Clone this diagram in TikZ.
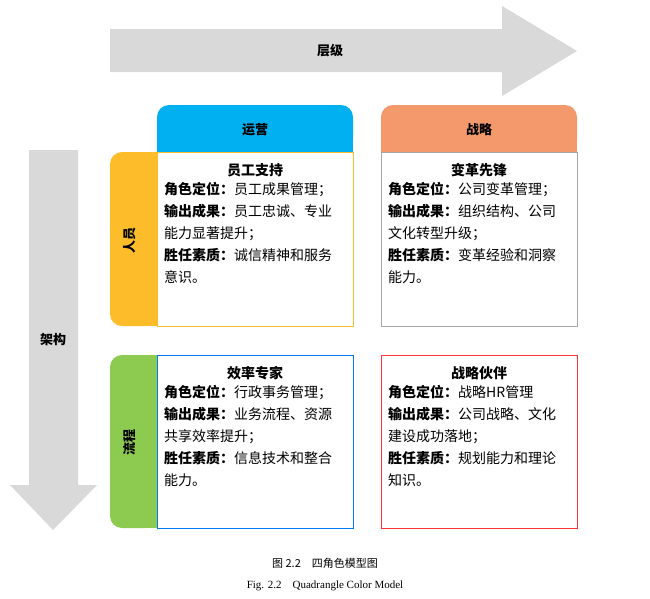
\documentclass[tikz,border=0pt]{standalone}
\usepackage{fontspec}
\setmainfont{Liberation Serif}
\newfontfamily\cjk{Noto Sans CJK SC}
\definecolor{opsblue}{HTML}{00B0F0}
\definecolor{stratorange}{HTML}{F4996C}
\definecolor{peopleyellow}{HTML}{FDBD2A}
\definecolor{flowgreen}{HTML}{8CCB50}
\definecolor{arrowgray}{HTML}{D9D9D9}
\tikzset{
	tabtext/.style={font=\cjk\bfseries\fontsize{13}{13}\selectfont},
	boxtitle/.style={font=\cjk\bfseries\fontsize{14}{14}\selectfont, anchor=north},
	boxbody/.style={font=\cjk\fontsize{14}{22}\selectfont, anchor=north west, align=left, inner sep=0pt}
}
\newcommand{\lab}[1]{{\bfseries #1}}
\begin{document}
\begin{tikzpicture}[x=1pt, y=-1pt]
	\useasboundingbox (0,0) rectangle (650,598);
	% arrows
	\fill[arrowgray] (110,29) -- (502,29) -- (502,6) -- (577,51) -- (502,96) -- (502,72) -- (110,72) -- cycle;
	\node[tabtext] (level) at (330,51) {层级};
	\fill[arrowgray] (29,150) -- (78,150) -- (78,485) -- (97,485) -- (53,530) -- (10,485) -- (29,485) -- cycle;
	\node[tabtext] (frame) at (53,340) {架构};
	% column tabs
	\fill[opsblue, rounded corners=12] (157,105) rectangle (353,152);
	\fill[opsblue] (157,130) rectangle (353,152);
	\fill[stratorange, rounded corners=12] (381,105) rectangle (577,152);
	\fill[stratorange] (381,130) rectangle (577,152);
	\node[tabtext] (ops) at (255,130) {运营};
	\node[tabtext] (strat) at (479,130) {战略};
	% row tabs
	\fill[peopleyellow, rounded corners=12] (110,152) rectangle (157,326);
	\fill[peopleyellow] (135,152) rectangle (157,326);
	\fill[flowgreen, rounded corners=12] (110,355) rectangle (157,528);
	\fill[flowgreen] (135,355) rectangle (157,528);
	\node[tabtext, rotate=90] (people) at (130,240) {人员};
	\node[tabtext, rotate=90] (flow) at (130,442) {流程};
	% boxes
	\draw[peopleyellow, line width=1pt] (157,152) rectangle (353,326);
	\draw[gray!70, line width=1pt] (381,152) rectangle (577,326);
	\draw[opsblue!70!blue, line width=1pt] (157,355) rectangle (353,528);
	\draw[red!80, line width=1pt] (381,355) rectangle (577,528);
	% texts
	\node[boxtitle] (t1) at (255,160) {员工支持};
	\node[boxbody] (b1) at (164,182) {\lab{角色定位：}员工成果管理；\\\lab{输出成果：}员工忠诚、专业\\能力显著提升；\\\lab{胜任素质：}诚信精神和服务\\意识。};
	\node[boxtitle] (t2) at (479,160) {变革先锋};
	\node[boxbody] (b2) at (388,182) {\lab{角色定位：}公司变革管理；\\\lab{输出成果：}组织结构、公司\\文化转型升级；\\\lab{胜任素质：}变革经验和洞察\\能力。};
	\node[boxtitle] (t3) at (255,363) {效率专家};
	\node[boxbody] (b3) at (164,385) {\lab{角色定位：}行政事务管理；\\\lab{输出成果：}业务流程、资源\\共享效率提升；\\\lab{胜任素质：}信息技术和整合\\能力。};
	\node[boxtitle] (t4) at (479,363) {战略伙伴};
	\node[boxbody] (b4) at (388,385) {\lab{角色定位：}战略HR管理\\\lab{输出成果：}公司战略、文化\\建设成功落地；\\\lab{胜任素质：}规划能力和理论\\知识。};
	% captions
	\node[font=\cjk\fontsize{11}{11}\selectfont] (cap1) at (325,563) {图\ 2.2\quad 四角色模型图};
	\node[font=\fontsize{11}{11}\selectfont] (cap2) at (325,586) {Fig. 2.2\quad Quadrangle Color Model};
\end{tikzpicture}
\end{document}
